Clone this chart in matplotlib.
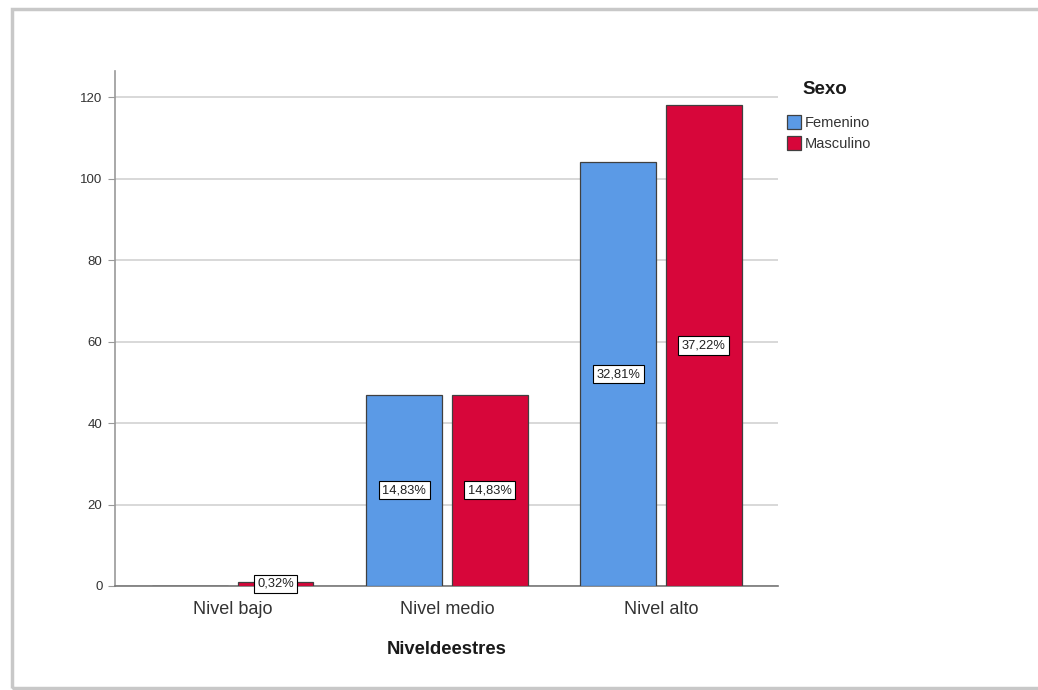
import numpy as np
import matplotlib.pyplot as plt
from matplotlib.patches import Rectangle, Patch

plt.rcParams['font.family'] = ['Liberation Sans', 'DejaVu Sans']

niveles = ['Nivel bajo', 'Nivel medio', 'Nivel alto']
femenino = [0, 47, 104]
masculino = [1, 47, 118]
pct_fem = ['', '14,83%', '32,81%']
pct_masc = ['0,32%', '14,83%', '37,22%']

azul = '#5B9AE6'
rojo = '#D7063A'

fig = plt.figure(figsize=(10.38, 6.90), dpi=100)

# marco gris del visor
fig.patches.append(Rectangle((12 / 1038, 2 / 690), 1.2, (690 - 11) / 690,
                             transform=fig.transFigure, fill=False,
                             edgecolor='#C8C8C8', linewidth=2.5, zorder=0))

ax = fig.add_axes([115 / 1038, 104 / 690, (778 - 115) / 1038, (586 - 71) / 690])

x = np.arange(len(niveles))
ancho = 0.355
desp = 0.199

b1 = ax.bar(x - desp, femenino, ancho, color=azul, edgecolor='#404040', linewidth=0.9, zorder=3)
b2 = ax.bar(x + desp, masculino, ancho, color=rojo, edgecolor='#404040', linewidth=0.9, zorder=3)

caja = dict(boxstyle='square,pad=0.25', facecolor='white', edgecolor='black', linewidth=0.8)
for barras, etiquetas in [(b1, pct_fem), (b2, pct_masc)]:
    for b, t in zip(barras, etiquetas):
        if t:
            ax.text(b.get_x() + b.get_width() / 2, b.get_height() / 2, t,
                    ha='center', va='center', fontsize=9.3, color='#202020',
                    bbox=caja, zorder=4)

ax.set_xlim(-0.551, 2.547)
ax.set_ylim(0, 126.4)
ax.set_yticks([0, 20, 40, 60, 80, 100, 120])
ax.set_xticks(x)
ax.set_xticklabels(niveles, fontsize=13, color='#333333')
ax.tick_params(axis='x', length=0, pad=11)
ax.tick_params(axis='y', length=5, color='#999999', labelsize=9.5, labelcolor='#333333', pad=4)
ax.yaxis.grid(True, color='#D2D2D2', linewidth=1.2, zorder=0)
ax.set_axisbelow(True)

for s in ['top', 'right']:
    ax.spines[s].set_visible(False)
ax.spines['left'].set_color('#999999')
ax.spines['left'].set_linewidth(1.2)
ax.spines['bottom'].set_color('#777777')
ax.spines['bottom'].set_linewidth(1.2)

ax.set_xlabel('Niveldeestres', fontsize=13.3, fontweight='bold', color='#1a1a1a', labelpad=16)

# leyenda
fig.text(802 / 1038, 1 - 90 / 690, 'Sexo', fontsize=13.5, fontweight='bold',
         color='#1a1a1a', ha='left', va='center')
manijas = [Patch(facecolor=azul, edgecolor='#404040', linewidth=0.9),
           Patch(facecolor=rojo, edgecolor='#404040', linewidth=0.9)]
leg = fig.legend(manijas, ['Femenino', 'Masculino'],
                 loc='upper left', bbox_to_anchor=(778 / 1038, 1 - 106 / 690),
                 frameon=False, fontsize=10.5, handlelength=1.0, handleheight=1.1,
                 handletextpad=0.25, labelspacing=0.45, borderpad=0.1)
for t in leg.get_texts():
    t.set_color('#333333')

fig.savefig('out.png', dpi=100)
